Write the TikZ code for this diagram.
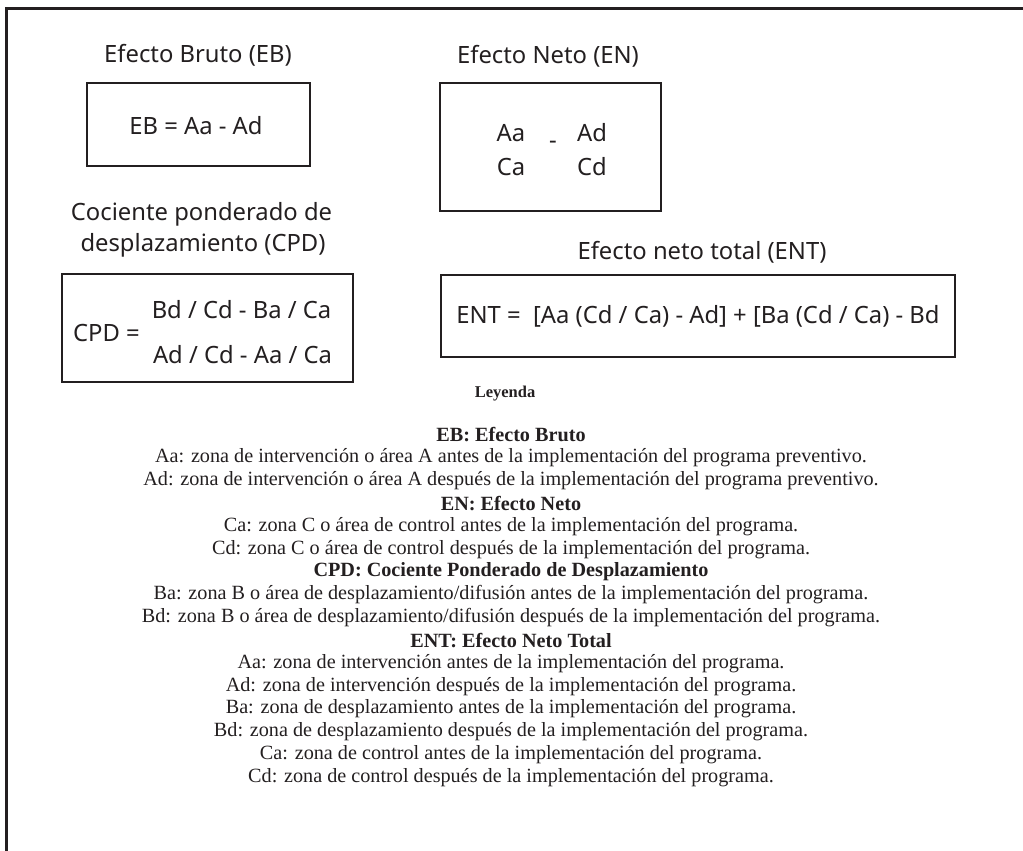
\documentclass[tikz,border=0pt]{standalone}
\usepackage{fontspec}
\setmainfont{Liberation Serif}
\newfontfamily\titlefont{Noto Sans}
\definecolor{ink}{HTML}{231F20}
\begin{document}
\begin{tikzpicture}[x=1pt,y=-1pt,
  ttl/.style={inner sep=0pt, text=ink, font=\titlefont\fontsize{23.8}{28}\selectfont},
  frm/.style={inner sep=0pt, text=ink, font=\titlefont\fontsize{23.8}{28}\selectfont},
  bx/.style={draw=ink, line width=2.5pt},
  leg/.style={inner sep=0pt, text=ink, font=\fontsize{20.2}{22}\selectfont},
  legb/.style={leg, font=\bfseries\fontsize{20.2}{22}\selectfont}]
\useasboundingbox (0,0) rectangle (1023,851);
% outer frame (open at right and bottom)
\draw[ink, line width=3pt] (6,851) -- (6,8.5) -- (1023,8.5);
% EB
\node[ttl] (tEB) at (198,55) {Efecto Bruto (EB)};
\draw[bx] (87,83) rectangle (310,166);
\node[frm] (fEB) at (196,126) {EB = Aa - Ad};
% EN
\node[ttl] (tEN) at (548,56) {Efecto Neto (EN)};
\draw[bx] (440,83) rectangle (661,211);
\node[frm] (aa) at (511,133) {Aa};
\node[frm] (ca) at (511,167) {Ca};
\node[frm] (ad) at (592,133) {Ad};
\node[frm] (cd) at (592,167) {Cd};
\node[frm] (mn) at (553,145) {-};
% CPD
\node[ttl] (tCPD1) at (201.5,214) {Cociente ponderado de};
\node[ttl] (tCPD2) at (203,245) {desplazamiento (CPD)};
\draw[bx] (62,274) rectangle (353,382);
\node[frm] (cpd) at (106.5,333) {CPD =};
\node[frm] (num) at (241.5,310) {Bd / Cd - Ba / Ca};
\node[frm] (den) at (242.5,355) {Ad / Cd - Aa / Ca};
% ENT
\node[ttl] (tENT) at (702,252) {Efecto neto total (ENT)};
\draw[bx] (441,275) rectangle (955,357);
\node[frm] (fENT) at (698,316) {ENT =~~[Aa (Cd / Ca) - Ad] + [Ba (Cd / Ca) - Bd};
% Legend
\node[legb, font=\bfseries\fontsize{16.5}{20}\selectfont] (ley) at (505,394) {Leyenda};
\node[legb] (l1) at (511,435) {EB: Efecto Bruto};
\node[leg] (l2) at (511,458) {Aa: zona de intervención o área A antes de la implementación del programa preventivo.};
\node[leg] (l3) at (511,481) {Ad: zona de intervención o área A después de la implementación del programa preventivo.};
\node[legb] (l4) at (511,504) {EN: Efecto Neto};
\node[leg] (l5) at (511,527) {Ca: zona C o área de control antes de la implementación del programa.};
\node[leg] (l6) at (511,550) {Cd: zona C o área de control después de la implementación del programa.};
\node[legb] (l7) at (511,572) {CPD: Cociente Ponderado de Desplazamiento};
\node[leg] (l8) at (511,595) {Ba: zona B o área de desplazamiento/difusión antes de la implementación del programa.};
\node[leg] (l9) at (511,618) {Bd: zona B o área de desplazamiento/difusión después de la implementación del programa.};
\node[legb] (l10) at (511,641) {ENT: Efecto Neto Total};
\node[leg] (l11) at (511,664) {Aa: zona de intervención antes de la implementación del programa.};
\node[leg] (l12) at (511,687) {Ad: zona de intervención después de la implementación del programa.};
\node[leg] (l13) at (511,709) {Ba: zona de desplazamiento antes de la implementación del programa.};
\node[leg] (l14) at (511,732) {Bd: zona de desplazamiento después de la implementación del programa.};
\node[leg] (l15) at (511,755) {Ca: zona de control antes de la implementación del programa.};
\node[leg] (l16) at (511,778) {Cd: zona de control después de la implementación del programa.};
\end{tikzpicture}
\end{document}
